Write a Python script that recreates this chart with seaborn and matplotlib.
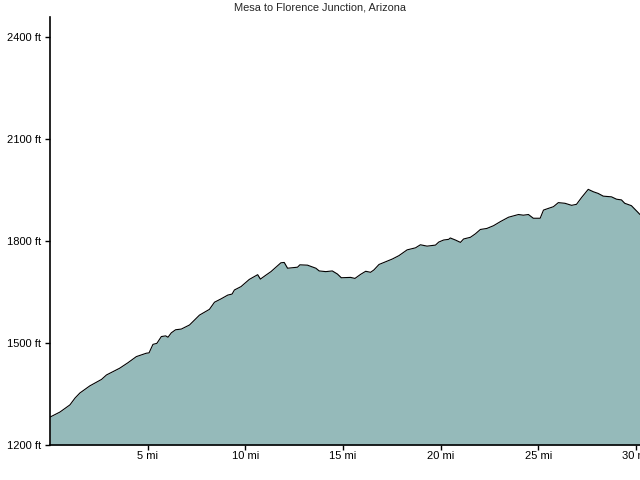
import matplotlib
matplotlib.use("Agg")
import matplotlib.pyplot as plt
import seaborn as sns
import pandas as pd

# elevation profile
miles = [0.00, 0.51, 1.02, 1.28, 1.53, 2.04, 2.64, 2.89, 3.57, 3.99, 4.42, 4.93, 5.07,
         5.27, 5.47, 5.70, 5.92, 6.04, 6.21, 6.43, 6.72, 7.14, 7.65, 8.16, 8.42, 8.76,
         9.10, 9.32, 9.44, 9.78, 10.20, 10.63, 10.77, 11.06, 11.31, 11.82, 11.99, 12.16,
         12.67, 12.79, 13.18, 13.61, 13.78, 14.12, 14.45, 14.71, 14.91, 15.39, 15.61,
         15.90, 16.16, 16.41, 16.58, 16.84, 17.18, 17.52, 17.86, 18.28, 18.71, 18.96,
         19.30, 19.73, 19.90, 20.15, 20.41, 20.49, 20.75, 21.01, 21.17, 21.52, 21.77,
         22.03, 22.36, 22.70, 23.05, 23.47, 23.98, 24.23, 24.49, 24.74, 25.09, 25.26,
         25.51, 25.77, 26.02, 26.36, 26.70, 26.95, 27.21, 27.55, 27.81, 28.06, 28.32,
         28.74, 29.00, 29.25, 29.42, 29.76, 30.10, 30.20]
elev_ft = [1282, 1297, 1318, 1338, 1353, 1374, 1393, 1406, 1426, 1442, 1460, 1470, 1471,
           1496, 1499, 1519, 1521, 1517, 1530, 1539, 1541, 1553, 1582, 1599, 1620, 1630,
           1641, 1644, 1656, 1666, 1687, 1701, 1688, 1700, 1710, 1736, 1737, 1720,
           1723, 1730, 1729, 1720, 1712, 1710, 1712, 1703, 1692, 1693, 1690,
           1702, 1711, 1708, 1715, 1731, 1739, 1747, 1757, 1774, 1780, 1789,
           1785, 1788, 1797, 1803, 1805, 1809, 1803, 1796, 1806, 1811, 1821,
           1834, 1837, 1845, 1857, 1870, 1878, 1876, 1878, 1867, 1867, 1891,
           1896, 1901, 1913, 1911, 1905, 1908, 1928, 1952, 1945, 1940, 1932,
           1930, 1923, 1921, 1911, 1904, 1884, 1878]

x_ticks = [5, 10, 15, 20, 25, 30]
y_ticks = [1200, 1500, 1800, 2100, 2400]

df = pd.DataFrame({"mi": miles, "ft": elev_ft})

sns.set_style("ticks")
plt.rcParams["font.family"] = ["Liberation Sans", "DejaVu Sans"]

fig = plt.figure(figsize=(6.4, 4.8), dpi=100)
ax = fig.add_axes([50 / 640, 1 - 445 / 480, 1 - 50 / 640, (445 - 17) / 480])

ax.fill_between(df["mi"], df["ft"], 1200, color="#95baba", linewidth=0, zorder=1)
sns.lineplot(data=df, x="mi", y="ft", color="black", linewidth=0.8, ax=ax, zorder=2)

ax.set_xlim(0, 30.2)
ax.set_ylim(1200, 2459)
ax.set_xticks(x_ticks)
ax.set_xticklabels([f"{t} mi" for t in x_ticks])
ax.set_yticks(y_ticks)
ax.set_yticklabels([f"{t} ft" for t in y_ticks])
ax.set_xlabel("")
ax.set_ylabel("")
ax.tick_params(axis="both", labelsize=8, length=3.5, width=1, color="black",
               labelcolor="black")
ax.tick_params(axis="x", pad=1)
ax.tick_params(axis="y", pad=3)
sns.despine(ax=ax)
for s in ["left", "bottom"]:
    ax.spines[s].set_color("black")
    ax.spines[s].set_linewidth(1.2)

fig.text(0.5, 1 - 8 / 480, "Mesa to Florence Junction, Arizona", ha="center",
         va="center", fontsize=7.9)

fig.savefig("out.png", dpi=100)
